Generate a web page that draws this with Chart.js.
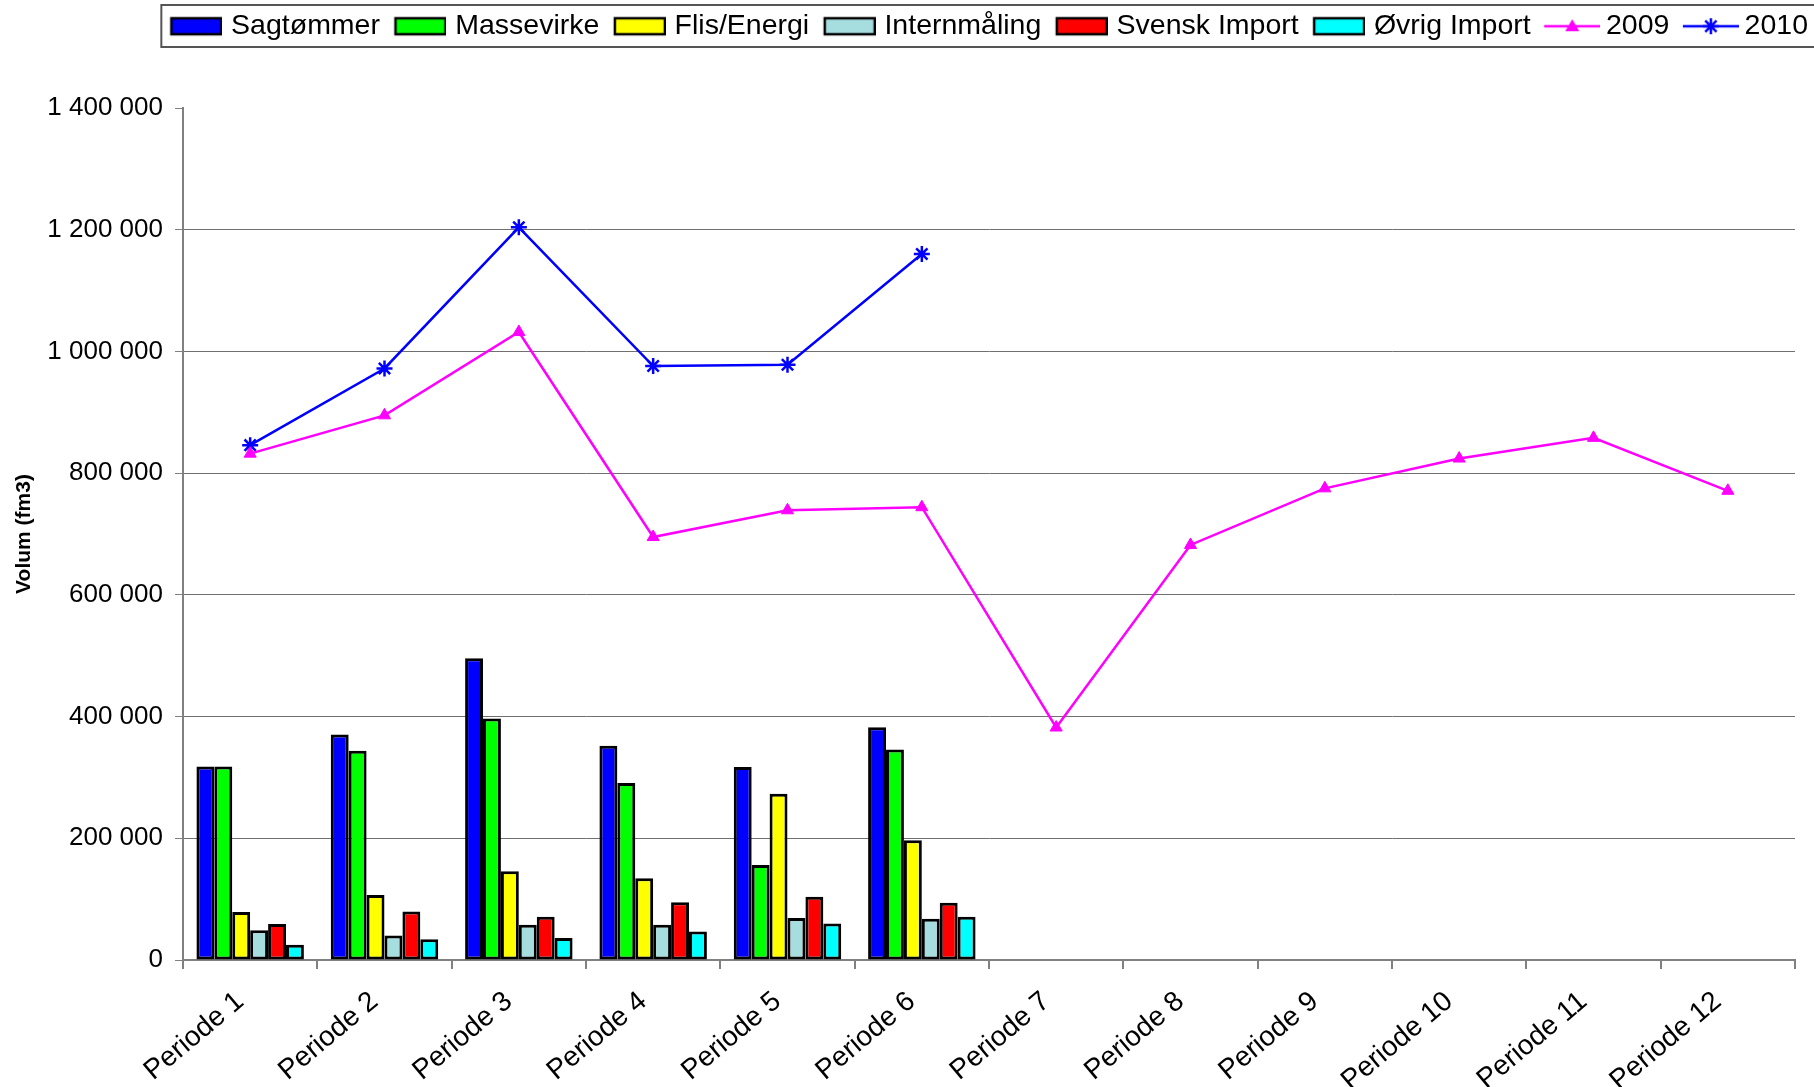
<!DOCTYPE html>
<html>
<head>
<meta charset="utf-8">
<script src="https://cdn.jsdelivr.net/npm/chart.js@4.4.1/dist/chart.umd.min.js"></script>
<style>
  html, body { margin: 0; padding: 0; background: #fff; }
  #wrap { width: 1814px; height: 1087px; }
</style>
</head>
<body>
<div id="wrap"><canvas id="chart"></canvas></div>
<script>
// Data
const PERIODS = ['Periode 1', 'Periode 2', 'Periode 3', 'Periode 4', 'Periode 5', 'Periode 6',
  'Periode 7', 'Periode 8', 'Periode 9', 'Periode 10', 'Periode 11', 'Periode 12'];

const SAGTOMMER   = [318000, 370500, 496000, 352000, 317000, 382500, null, null, null, null, null, null];
const MASSEVIRKE  = [318000, 344000, 396700, 290700, 156000, 346000, null, null, null, null, null, null];
const FLIS        = [78700, 107000, 146000, 134400, 273000, 196700, null, null, null, null, null, null];
const INTERN      = [49000, 40400, 57900, 57900, 68900, 67800, null, null, null, null, null, null];
const SVENSK      = [59000, 79800, 71000, 95000, 103800, 94000, null, null, null, null, null, null];
const OVRIG       = [25000, 33900, 36000, 47000, 60000, 71000, null, null, null, null, null, null];

const Y2009 = [832000, 895000, 1032000, 695000, 739000, 744000, 382000, 682000, 775000, 824000, 858000, 771000];
const Y2010 = [846000, 972000, 1204000, 976000, 978000, 1160000, null, null, null, null, null, null];

const Y_TICKS = [0, 200000, 400000, 600000, 800000, 1000000, 1200000, 1400000];

const BAR_SERIES = [
  {label: 'Sagtømmer', data: SAGTOMMER, color: '#0000FF'},
  {label: 'Massevirke', data: MASSEVIRKE, color: '#00FF00'},
  {label: 'Flis/Energi', data: FLIS, color: '#FFFF00'},
  {label: 'Internmåling', data: INTERN, color: '#A6DEE0'},
  {label: 'Svensk Import', data: SVENSK, color: '#FF0000'},
  {label: 'Øvrig Import', data: OVRIG, color: '#00FFFF'},
];

function fmt(v) {
  return String(v).replace(/\B(?=(\d{3})+(?!\d))/g, ' ');
}

// legend glyphs
function boxIcon(fill) {
  const c = document.createElement('canvas');
  c.width = 60; c.height = 22;
  const g = c.getContext('2d');
  g.fillStyle = fill;
  g.fillRect(9, 3, 50, 16);
  g.strokeStyle = '#000';
  g.lineWidth = 2.5;
  g.strokeRect(9, 3, 50, 16);
  return c;
}

function lineIcon(color, marker) {
  const c = document.createElement('canvas');
  c.width = 66; c.height = 22;
  const g = c.getContext('2d');
  g.strokeStyle = color;
  g.fillStyle = color;
  g.lineWidth = 2.5;
  g.beginPath(); g.moveTo(10, 11); g.lineTo(66, 11); g.stroke();
  const cx = 38, cy = 11;
  if (marker === 'triangle') {
    g.beginPath();
    g.moveTo(cx, cy - 7); g.lineTo(cx + 7, cy + 5); g.lineTo(cx - 7, cy + 5);
    g.closePath(); g.fill();
  } else {
    const r = 8, d = r * Math.SQRT1_2;
    g.beginPath();
    g.moveTo(cx - r, cy); g.lineTo(cx + r, cy);
    g.moveTo(cx, cy - r); g.lineTo(cx, cy + r);
    g.moveTo(cx - d, cy - d); g.lineTo(cx + d, cy + d);
    g.moveTo(cx - d, cy + d); g.lineTo(cx + d, cy - d);
    g.stroke();
  }
  return c;
}

const legendTweaks = {
  id: 'legendTweaks',
  beforeInit(chart) {
    const fit = chart.legend.fit;
    chart.legend.fit = function () {
      fit.call(this);
      this.height = 108;
    };
  },
  afterLayout(chart) {
    chart.legend.right = chart.width + 6;
  },
  afterDraw(chart) {
    const lg = chart.legend;
    const x0 = lg.right - lg.lineWidths[0] - 6.5;
    const ctx = chart.ctx;
    ctx.save();
    ctx.strokeStyle = '#555';
    ctx.lineWidth = 2;
    ctx.strokeRect(x0, 5, chart.width - x0 + 10, 42);
    ctx.restore();
  }
};

const datasets = BAR_SERIES.map(s => ({
  type: 'bar',
  label: s.label,
  data: s.data,
  backgroundColor: s.color,
  borderColor: '#000',
  borderWidth: 3,
  borderSkipped: false,
  categoryPercentage: 0.8,
  barPercentage: 1,
  icon: boxIcon(s.color)
}));

datasets.push({
  type: 'line',
  label: '2009',
  data: Y2009,
  borderColor: '#FF00FF',
  backgroundColor: '#FF00FF',
  borderWidth: 2.5,
  pointStyle: 'triangle',
  pointRadius: 7,
  pointBorderWidth: 1,
  tension: 0,
  fill: false,
  icon: lineIcon('#FF00FF', 'triangle')
});

datasets.push({
  type: 'line',
  label: '2010',
  data: Y2010,
  borderColor: '#0000FF',
  backgroundColor: '#0000FF',
  borderWidth: 2.5,
  pointStyle: 'star',
  pointRadius: 8,
  pointBorderWidth: 2.5,
  tension: 0,
  fill: false,
  icon: lineIcon('#0000FF', 'star')
});

new Chart(document.getElementById('chart').getContext('2d'), {
  type: 'bar',
  data: {labels: PERIODS, datasets},
  plugins: [legendTweaks],
  options: {
    responsive: true,
    maintainAspectRatio: false,
    animation: false,
    layout: {padding: {right: 19}},
    plugins: {
      tooltip: {enabled: false},
      legend: {
        position: 'top',
        align: 'end',
        labels: {
          usePointStyle: true,
          pointStyleWidth: 49,
          boxHeight: 22,
          padding: 12,
          color: '#000',
          font: {family: 'Liberation Sans', size: 28.5},
          generateLabels(chart) {
            return chart.data.datasets.map((ds, i) => ({
              text: ds.label,
              pointStyle: ds.icon,
              datasetIndex: i,
              hidden: false,
              lineWidth: 0,
              fillStyle: 'transparent',
              strokeStyle: 'transparent',
              fontColor: '#000'
            }));
          }
        }
      }
    },
    scales: {
      x: {
        grid: {
          display: true,
          drawOnChartArea: false,
          drawTicks: true,
          tickLength: 9,
          color: '#808080',
          lineWidth: 2,
          offset: true
        },
        border: {color: '#808080', width: 2},
        ticks: {
          color: '#000',
          font: {family: 'Liberation Sans', size: 28},
          minRotation: 40,
          maxRotation: 40,
          autoSkip: false,
          padding: 16,
          labelOffset: -10
        },
        afterFit(s) { s.height = 127; }
      },
      y: {
        min: Y_TICKS[0],
        max: Y_TICKS[Y_TICKS.length - 1],
        afterBuildTicks(s) { s.ticks = Y_TICKS.map(v => ({value: v})); },
        ticks: {
          color: '#000',
          font: {family: 'Liberation Sans', size: 26},
          padding: 12,
          callback: v => fmt(v)
        },
        grid: {
          color: c => (c.tick && c.tick.value === Y_TICKS[Y_TICKS.length - 1]) ? 'rgba(0,0,0,0)' : '#707070',
          tickColor: '#808080',
          lineWidth: 1,
          tickLength: 8
        },
        border: {color: '#808080', width: 2},
        title: {
          display: true,
          text: 'Volum (fm3)',
          color: '#000',
          font: {family: 'Liberation Sans', size: 21, weight: 'bold'},
          padding: {top: 12, bottom: 0}
        },
        afterFit(s) { s.width = 183; }
      }
    }
  }
});
</script>
</body>
</html>
